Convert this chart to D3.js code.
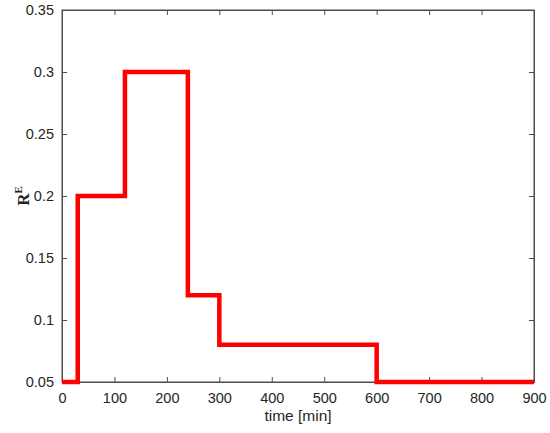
<!DOCTYPE html>
<html>
<head>
<meta charset="utf-8">
<script src="https://cdn.jsdelivr.net/npm/d3@7"></script>
<style>
  html, body { margin: 0; padding: 0; background: #fff; }
  svg { display: block; }
  .tick text { font-family: "Liberation Sans", Arial, sans-serif; font-size: 14.5px; fill: #262626; }
</style>
</head>
<body>
<div id="chart"></div>
<script>
// step values of R^E over time
const stepTimes  = [0, 30, 120, 240, 300, 600, 900];
const stepValues = [0.05, 0.2, 0.3, 0.12, 0.08, 0.05, 0.05];
const xTicks = [0, 100, 200, 300, 400, 500, 600, 700, 800, 900];
const yTicks = [0.05, 0.1, 0.15, 0.2, 0.25, 0.3, 0.35];

const W = 550, H = 433;
const m = { left: 62, right: 16, top: 10, bottom: 51 };

const svg = d3.select('#chart').append('svg')
  .attr('width', W).attr('height', H);

const x = d3.scaleLinear().domain([0, 900]).range([m.left, W - m.right]);
const y = d3.scaleLinear().domain([0.05, 0.35]).range([H - m.bottom, m.top]);

const axisColor = '#4d4d4d';

// box
svg.append('rect')
  .attr('x', m.left).attr('y', m.top)
  .attr('width', W - m.left - m.right).attr('height', H - m.top - m.bottom)
  .attr('fill', 'none').attr('stroke', axisColor).attr('stroke-width', 1);

// axes with inward ticks
svg.append('g').attr('transform', `translate(0,${H - m.bottom})`)
  .call(d3.axisBottom(x).tickValues(xTicks).tickSize(-5).tickPadding(11).tickFormat(d3.format('d')));
svg.append('g').attr('transform', `translate(${m.left},0)`)
  .call(d3.axisLeft(y).tickValues(yTicks).tickSize(-5).tickPadding(8).tickFormat(d => String(+d.toFixed(2))));

// top/right mirrored ticks
svg.append('g').attr('transform', `translate(0,${m.top})`)
  .call(d3.axisTop(x).tickValues(xTicks).tickSize(-5).tickFormat(''));
svg.append('g').attr('transform', `translate(${W - m.right},0)`)
  .call(d3.axisRight(y).tickValues(yTicks).tickSize(-5).tickFormat(''));

svg.selectAll('.domain').attr('stroke', axisColor);
svg.selectAll('.tick line').attr('stroke', axisColor);

// step line
const line = d3.line()
  .x(d => x(d[0])).y(d => y(d[1]))
  .curve(d3.curveStepAfter);

svg.append('path')
  .datum(stepTimes.map((t, i) => [t, stepValues[i]]))
  .attr('fill', 'none')
  .attr('stroke', '#ff0000')
  .attr('stroke-width', 4.5)
  .attr('stroke-linejoin', 'miter')
  .attr('d', line);

// labels
svg.append('text')
  .attr('x', (m.left + W - m.right) / 2).attr('y', 421)
  .attr('text-anchor', 'middle')
  .attr('font-family', '"Liberation Sans", Arial, sans-serif')
  .attr('font-size', 15.5).attr('fill', '#262626')
  .text('time [min]');

const yl = svg.append('text')
  .attr('transform', `translate(29,${(m.top + H - m.bottom) / 2}) rotate(-90)`)
  .attr('text-anchor', 'middle')
  .attr('font-family', '"Liberation Serif", "Times New Roman", serif')
  .attr('font-weight', 'bold').attr('font-size', 17).attr('fill', '#262626');
yl.append('tspan').text('R');
yl.append('tspan').attr('font-size', 11).attr('dy', -7).text('E');
</script>
</body>
</html>
